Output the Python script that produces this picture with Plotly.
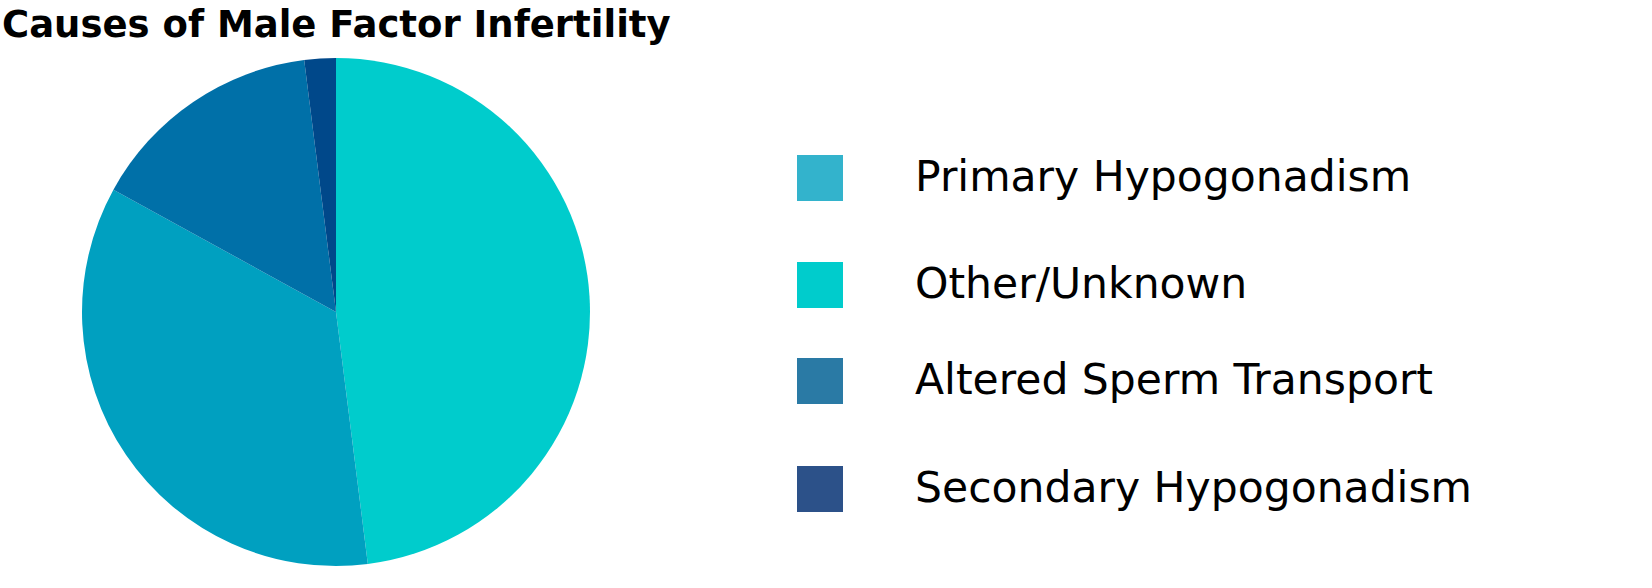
import plotly.graph_objects as go

# Data (legend order)
categories = ["Primary Hypogonadism", "Other/Unknown", "Altered Sperm Transport", "Secondary Hypogonadism"]
values = [35, 48, 15, 2]
slice_colors = ["#00A0C0", "#00CCCC", "#0070A8", "#00488A"]
legend_colors = ["#33B3CC", "#00CCCC", "#2A7AA5", "#2C5189"]
title_text = "Causes of Male Factor Infertility"

W, H = 1652, 588

# pie drawn clockwise from 12 o'clock: Other, Primary, Altered, Secondary
pie_order = [1, 0, 2, 3]

fig = go.Figure()

fig.add_trace(go.Pie(
    labels=[categories[i] for i in pie_order],
    values=[values[i] for i in pie_order],
    marker=dict(colors=[slice_colors[i] for i in pie_order], line=dict(width=0)),
    sort=False,
    direction="clockwise",
    rotation=0,
    textinfo="none",
    showlegend=False,
    domain=dict(x=[82 / W, 590 / W], y=[(H - 566) / H, (H - 58) / H]),
))

# legend drawn as marks on a hidden pixel-scaled axis
row_y = [178, 285, 381, 489]
fig.add_trace(go.Scatter(
    x=[820] * len(categories), y=row_y,
    mode="markers",
    marker=dict(symbol="square", size=46, color=legend_colors, line=dict(width=0)),
    hoverinfo="skip", showlegend=False,
))
fig.add_trace(go.Scatter(
    x=[915] * len(categories), y=[v + 2 for v in row_y],
    mode="text",
    text=categories,
    textposition="middle right",
    textfont=dict(family="DejaVu Sans", size=42.5, color="#000000"),
    hoverinfo="skip", showlegend=False,
))

fig.add_annotation(
    text=title_text, xref="paper", yref="paper",
    x=0, xanchor="left", y=1 - 25 / H, yanchor="middle",
    showarrow=False,
    font=dict(family="DejaVu Sans", size=37, color="#000000", weight=700),
)

fig.update_layout(
    width=W, height=H,
    margin=dict(l=0, r=0, t=0, b=0),
    paper_bgcolor="white", plot_bgcolor="rgba(0,0,0,0)",
    xaxis=dict(range=[0, W], visible=False, fixedrange=True),
    yaxis=dict(range=[H, 0], visible=False, fixedrange=True),
)

fig.write_html("out.html", config={"displayModeBar": False},
               post_script="document.body.style.margin='0px';")
